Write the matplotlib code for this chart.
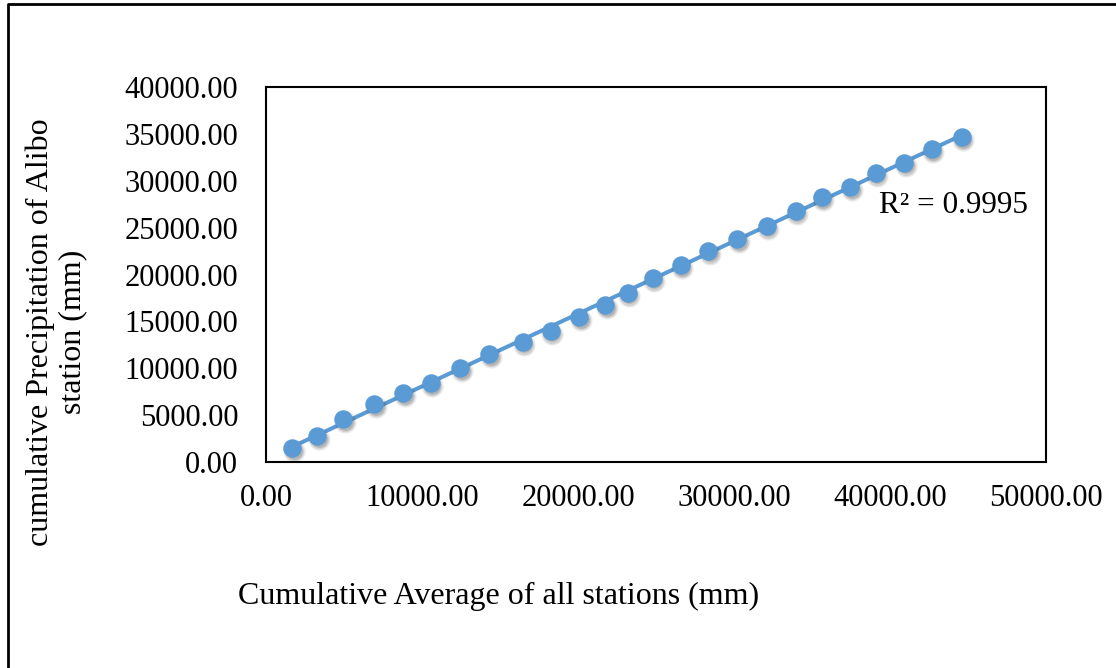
import numpy as np
import matplotlib
matplotlib.use('Agg')
import matplotlib.pyplot as plt
from matplotlib.lines import Line2D
from matplotlib.transforms import offset_copy

# ── Data: double-mass curve, Alibo station vs all-station average ─────────────
avg_all = [1690, 3290, 4960, 6940, 8800, 10560, 12440, 14320, 16450, 18250,
           20080, 21750, 23180, 24790, 26580, 28350, 30210, 32100, 33960,
           35620, 37460, 39100, 40900, 42670, 44600]
alibo = [1460, 2770, 4550, 6150, 7330, 8400, 10000, 11520, 12830, 14000,
         15430, 16710, 18060, 19630, 21010, 22540, 23750, 25200, 26800,
         28230, 29300, 30860, 31920, 33350, 34630]

x_ticks = [0, 10000, 20000, 30000, 40000, 50000]
y_ticks = [0, 5000, 10000, 15000, 20000, 25000, 30000, 35000, 40000]
r2_label = 'R² = 0.9995'

BLUE = '#5B9BD5'
FONT = 'Liberation Serif'
TICK_FS = 22
LABEL_FS = 23

plt.rcParams['font.family'] = FONT

fig = plt.figure(figsize=(11.16, 6.68), dpi=100)
fig.patch.set_facecolor('white')
ax = fig.add_axes([266 / 1116, 1 - 462 / 668, 780 / 1116, 375 / 668])

x = np.array(avg_all)
y = np.array(alibo)

# linear trendline over the data range
slope, intercept = np.polyfit(x, y, 1)
xt = np.array([x.min(), x.max()])
ax.plot(xt, slope * xt + intercept, color=BLUE, lw=2.9, zorder=2,
        solid_capstyle='butt')

# soft drop shadow under the markers
for dx, dy, a, ms in [(1.5, -3, 0.10, 16), (1.5, -3, 0.15, 14), (1.5, -2.5, 0.2, 12)]:
    tr = offset_copy(ax.transData, fig=fig, x=dx, y=dy, units='dots')
    ax.plot(x, y, 'o', ms=ms, color='#404040', alpha=a, mec='none',
            transform=tr, zorder=3)
ax.plot(x, y, 'o', ms=13.3, color=BLUE, mec='none', zorder=4)

ax.set_xlim(0, 50000)
ax.set_ylim(0, 40000)
ax.set_xticks(x_ticks)
ax.set_yticks(y_ticks)
ax.set_xticklabels([f'{v:.2f}' for v in x_ticks], fontsize=TICK_FS)
ax.set_yticklabels([f'{v:.2f}' for v in y_ticks], fontsize=TICK_FS)
ax.tick_params(axis='x', length=0, pad=16, colors='black')
ax.tick_params(axis='y', length=0, pad=20, colors='black')
for s in ax.spines.values():
    s.set_linewidth(1.5)
    s.set_color('black')

ax.text(0.882, 0.685, r2_label, transform=ax.transAxes, fontsize=22.5,
        ha='center', va='center')

fig.text(499 / 1116, 1 - 596 / 668, 'Cumulative Average of all stations (mm)',
         fontsize=LABEL_FS, ha='center', va='center')
fig.text(56 / 1116, 1 - 332 / 668,
         'cumulative Precipitation of Alibo\nstation (mm)',
         fontsize=LABEL_FS, ha='center', va='center', rotation=90,
         linespacing=1.15)

# outer chart border (top and left edges visible)
fig.add_artist(Line2D([8 / 1116, 8 / 1116, 1.0], [0.0, 1 - 4 / 668, 1 - 4 / 668],
                      transform=fig.transFigure, color='black', lw=2.0))

fig.savefig('out.png', dpi=100)
